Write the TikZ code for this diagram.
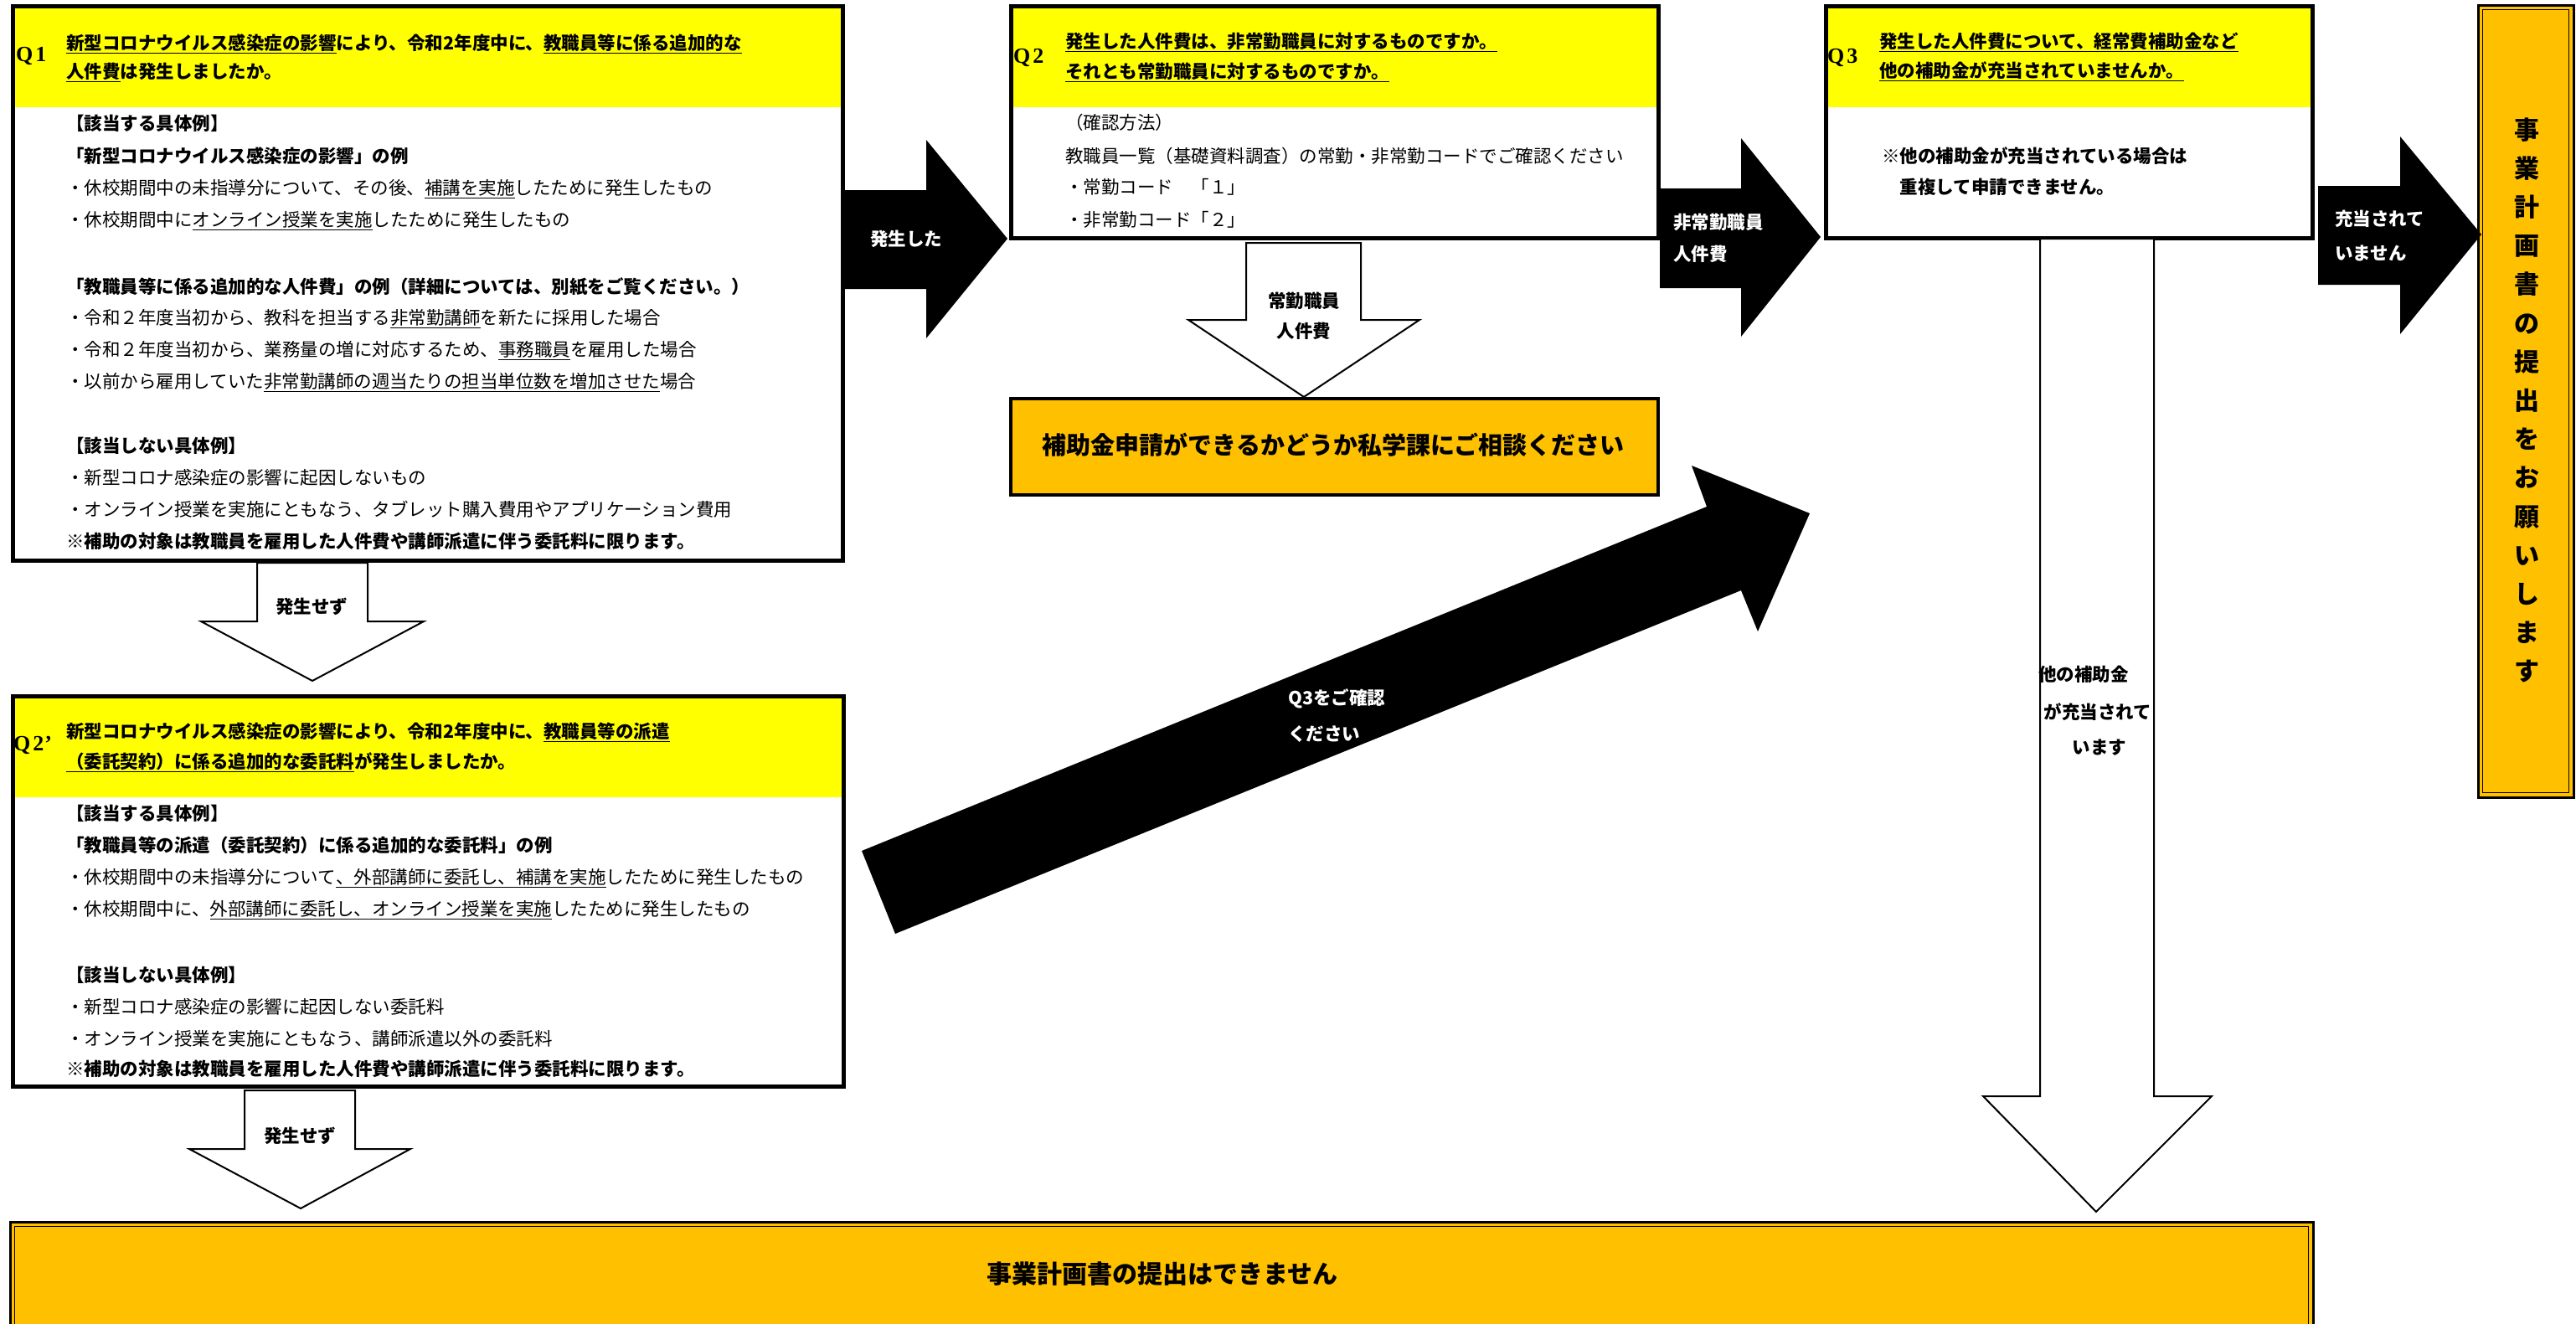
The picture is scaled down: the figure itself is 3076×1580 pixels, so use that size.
\documentclass[tikz,border=0pt]{standalone}
\usepackage{fontspec}
\setmainfont{Noto Sans CJK JP}
\newfontfamily\qfont{Liberation Serif}
\usetikzlibrary{calc}
\definecolor{hdrYellow}{RGB}{255,255,0}
\definecolor{boxOrange}{RGB}{255,192,0}
\newcommand\myul[1]{\setbox0\hbox{#1}\rlap{\rule[-4.5pt]{\wd0}{1.8pt}}\box0}
\tikzset{
 qbox/.style={draw=black, line width=4.5pt, fill=white, inner sep=0pt, anchor=north west},
 obox/.style={draw=black, line width=4pt, fill=boxOrange, inner sep=0pt, anchor=north west},
 txt/.style={anchor=west, inner sep=0pt, text height=18.5pt, text depth=2.6pt, font=\fontsize{21.5}{24}\selectfont},
 txtb/.style={txt, font=\fontsize{21.5}{24}\selectfont\bfseries},
 qlab/.style={anchor=west, inner sep=0pt, font=\qfont\bfseries\fontsize{26}{28}\selectfont},
 wlab/.style={inner sep=0pt, text=white, text height=18.5pt, text depth=2.6pt, font=\fontsize{21.5}{24}\selectfont\bfseries},
 blab/.style={wlab, text=black},
 whitearrow/.style={draw=black, line width=2pt, fill=white, line join=miter},
 blackarrow/.style={fill=black},
}
\begin{document}
\begin{tikzpicture}[x=1pt,y=-1pt]
\useasboundingbox (0,0) rectangle (3076,1580);
\clip (0,0) rectangle (3076,1580);
\fill[white] (0,0) rectangle (3076,1580);

% ---------- Q1 box ----------
\node[qbox, minimum width=991pt, minimum height=662pt] (q1) at (13,5) {};
\fill[hdrYellow] ($(q1.north west)+(4.5,4.5)$) rectangle ($(q1.north east)+(-4.5,123)$);
\node[qlab] (q1q) at (19,67) {Q\kern3pt1};
\node[txtb] (q1h1) at (79,52) {\myul{新型コロナウイルス感染症の影響}により、令和2年度中に、\myul{教職員等に係る追加的な}};
\node[txtb] (q1h2) at (79,86) {\myul{人件費}は発生しましたか。};
\node[txtb] (q1b1) at (79,148) {【該当する具体例】};
\node[txtb] (q1b2) at (79,187) {「新型コロナウイルス感染症の影響」の例};
\node[txt] (q1b3) at (79,225) {・休校期間中の未指導分について、その後、\myul{補講を実施}したために発生したもの};
\node[txt] (q1b4) at (79,263) {・休校期間中に\myul{オンライン授業を実施}したために発生したもの};
\node[txtb] (q1b5) at (79,343) {「教職員等に係る追加的な人件費」の例（詳細については、別紙をご覧ください。）};
\node[txt] (q1b6) at (79,380) {・令和２年度当初から、教科を担当する\myul{非常勤講師}を新たに採用した場合};
\node[txt] (q1b7) at (79,418) {・令和２年度当初から、業務量の増に対応するため、\myul{事務職員}を雇用した場合};
\node[txt] (q1b8) at (79,456) {・以前から雇用していた\myul{非常勤講師の週当たりの担当単位数を増加させた}場合};
\node[txtb] (q1b9) at (79,533) {【該当しない具体例】};
\node[txt] (q1b10) at (79,571) {・新型コロナ感染症の影響に起因しないもの};
\node[txt] (q1b11) at (79,609) {・オンライン授業を実施にともなう、タブレット購入費用やアプリケーション費用};
\node[txtb] (q1b12) at (79,647) {※補助の対象は教職員を雇用した人件費や講師派遣に伴う委託料に限ります。};

% ---------- Q2' box ----------
\node[qbox, minimum width=992pt, minimum height=466pt] (q2d) at (13,829) {};
\fill[hdrYellow] ($(q2d.north west)+(4.5,4.5)$) rectangle ($(q2d.north east)+(-4.5,123)$);
\node[qlab] (q2dq) at (16,890) {Q\kern3pt2\kern1pt’};
\node[txtb] (q2dh1) at (79,874) {新型コロナウイルス感染症の影響により、令和2年度中に、\myul{教職員等の派遣}};
\node[txtb] (q2dh2) at (79,910) {\myul{（委託契約）に係る追加的な委託料}が発生しましたか。};
\node[txtb] (q2db1) at (79,972) {【該当する具体例】};
\node[txtb] (q2db2) at (79,1010) {「教職員等の派遣（委託契約）に係る追加的な委託料」の例};
\node[txt] (q2db3) at (79,1048) {・休校期間中の未指導分について\myul{、外部講師に委託し、補講を実施}したために発生したもの};
\node[txt] (q2db4) at (79,1086) {・休校期間中に、\myul{外部講師に委託し、オンライン授業を実施}したために発生したもの};
\node[txtb] (q2db5) at (79,1165) {【該当しない具体例】};
\node[txt] (q2db6) at (79,1203) {・新型コロナ感染症の影響に起因しない委託料};
\node[txt] (q2db7) at (79,1241) {・オンライン授業を実施にともなう、講師派遣以外の委託料};
\node[txtb] (q2db8) at (79,1277) {※補助の対象は教職員を雇用した人件費や講師派遣に伴う委託料に限ります。};

% ---------- Q2 box ----------
\node[qbox, minimum width=773pt, minimum height=277pt] (q2) at (1205,5) {};
\fill[hdrYellow] ($(q2.north west)+(4.5,4.5)$) rectangle ($(q2.north east)+(-4.5,123)$);
\node[qlab] (q2q) at (1210,69) {Q\kern3pt2};
\node[txtb] (q2h1) at (1272,50) {\myul{発生した人件費は、非常勤職員に対するものですか。}};
\node[txtb] (q2h2) at (1272,86) {\myul{それとも常勤職員に対するものですか。}};
\node[txt] (q2b1) at (1272,147) {（確認方法）};
\node[txt] (q2b2) at (1272,187) {教職員一覧（基礎資料調査）の常勤・非常勤コードでご確認ください};
\node[txt] (q2b3) at (1272,224) {・常勤コード　「１」};
\node[txt] (q2b4) at (1272,263) {・非常勤コード「２」};

% ---------- Q3 box ----------
\node[qbox, minimum width=581pt, minimum height=277pt] (q3) at (2178,5) {};
\fill[hdrYellow] ($(q3.north west)+(4.5,4.5)$) rectangle ($(q3.north east)+(-4.5,123)$);
\node[qlab] (q3q) at (2182,69) {Q\kern3pt3};
\node[txtb] (q3h1) at (2244,50) {\myul{発生した人件費について、経常費補助金など}};
\node[txtb] (q3h2) at (2244,85) {\myul{他の補助金が充当されていませんか。}};
\node[txtb] (q3b1) at (2247,187) {※他の補助金が充当されている場合は};
\node[txtb] (q3b2) at (2247,224) {　重複して申請できません。};

% ---------- orange consult box ----------
\node[obox, minimum width=773pt, minimum height=115pt] (cons) at (1205,474) {};
\node[inner sep=0pt, text height=25pt, text depth=3.5pt, font=\fontsize{29}{32}\selectfont\bfseries] (constxt) at (1592,532) {補助金申請ができるかどうか私学課にご相談ください};

% ---------- right vertical box ----------
\draw[line width=3pt, fill=boxOrange] (2959,6) rectangle (3073,952);
\draw[line width=1.5pt] (2964.5,11.5) rectangle (3067.5,946.5);
\node[inner sep=0pt, align=center, font=\fontsize{30}{46.2}\selectfont\bfseries] (vtxt) at (3017,478) {事\\業\\計\\画\\書\\の\\提\\出\\を\\お\\願\\い\\し\\ま\\す};

% ---------- bottom box ----------
\draw[line width=3pt, fill=boxOrange] (12,1459) rectangle (2762,1600);
\draw[line width=1.5pt] (17.5,1464.5) rectangle (2756.5,1600);
\node[inner sep=0pt, text height=26pt, text depth=3.6pt, font=\fontsize{30}{33}\selectfont\bfseries] (btxt) at (1388,1521) {事業計画書の提出はできません};

% ---------- block arrows ----------
% 発生せず (Q1 -> Q2')
\draw[whitearrow] (307,672) -- (439,672) -- (439,742) -- (506,742) -- (373,813) -- (240,742) -- (307,742) -- cycle;
\node[blab] (a1) at (372,725) {発生せず};
% 発生せず (Q2' -> bottom)
\draw[whitearrow] (292,1302) -- (424,1302) -- (424,1372) -- (490,1372) -- (359,1443) -- (226,1372) -- (292,1372) -- cycle;
\node[blab] (a2) at (358,1357) {発生せず};
% 発生した (Q1 -> Q2)
\fill[blackarrow] (1008,227) -- (1106,227) -- (1106,167) -- (1203,285) -- (1106,404) -- (1106,345) -- (1008,345) -- cycle;
\node[wlab] (a3) at (1082,286) {発生した};
% 非常勤職員人件費 (Q2 -> Q3)
\fill[blackarrow] (1982,225) -- (2079,225) -- (2079,165) -- (2174,283) -- (2079,402) -- (2079,344) -- (1982,344) -- cycle;
\node[wlab, anchor=west] (a4a) at (1998,266) {非常勤職員};
\node[wlab, anchor=west] (a4b) at (1998,304) {人件費};
% 常勤職員人件費 (Q2 -> consult)
\draw[whitearrow] (1488,290) -- (1625,290) -- (1625,382) -- (1695,382) -- (1557,474) -- (1419,382) -- (1488,382) -- cycle;
\node[blab] (a5a) at (1557,360) {常勤職員};
\node[blab] (a5b) at (1557,396) {人件費};
% 充当されていません (Q3 -> right box)
\fill[blackarrow] (2768,222) -- (2866,222) -- (2866,163) -- (2963,280) -- (2866,399) -- (2866,340) -- (2768,340) -- cycle;
\node[wlab, anchor=west] (a6a) at (2788,262) {充当されて};
\node[wlab, anchor=west] (a6b) at (2788,303) {いません};
% 他の補助金が充当されています (Q3 -> bottom)
\draw[whitearrow] (2436,285) -- (2572,285) -- (2572,1309) -- (2641,1309) -- (2503,1447) -- (2368,1309) -- (2436,1309) -- cycle;
\node[blab] (a7a) at (2488,806) {他の補助金};
\node[blab] (a7b) at (2505,851) {が充当されて};
\node[blab] (a7c) at (2507,893) {います};
% Q3をご確認ください (Q2' -> Q3)
\fill[blackarrow] (1029,1016) -- (2038,605) -- (2020,556) -- (2161,613) -- (2099,754) -- (2079,705) -- (1069,1115) -- cycle;
\node[wlab, anchor=west] (a8a) at (1538,834) {Q3をご確認};
\node[wlab, anchor=west] (a8b) at (1538,877) {ください};
\end{tikzpicture}
\end{document}
